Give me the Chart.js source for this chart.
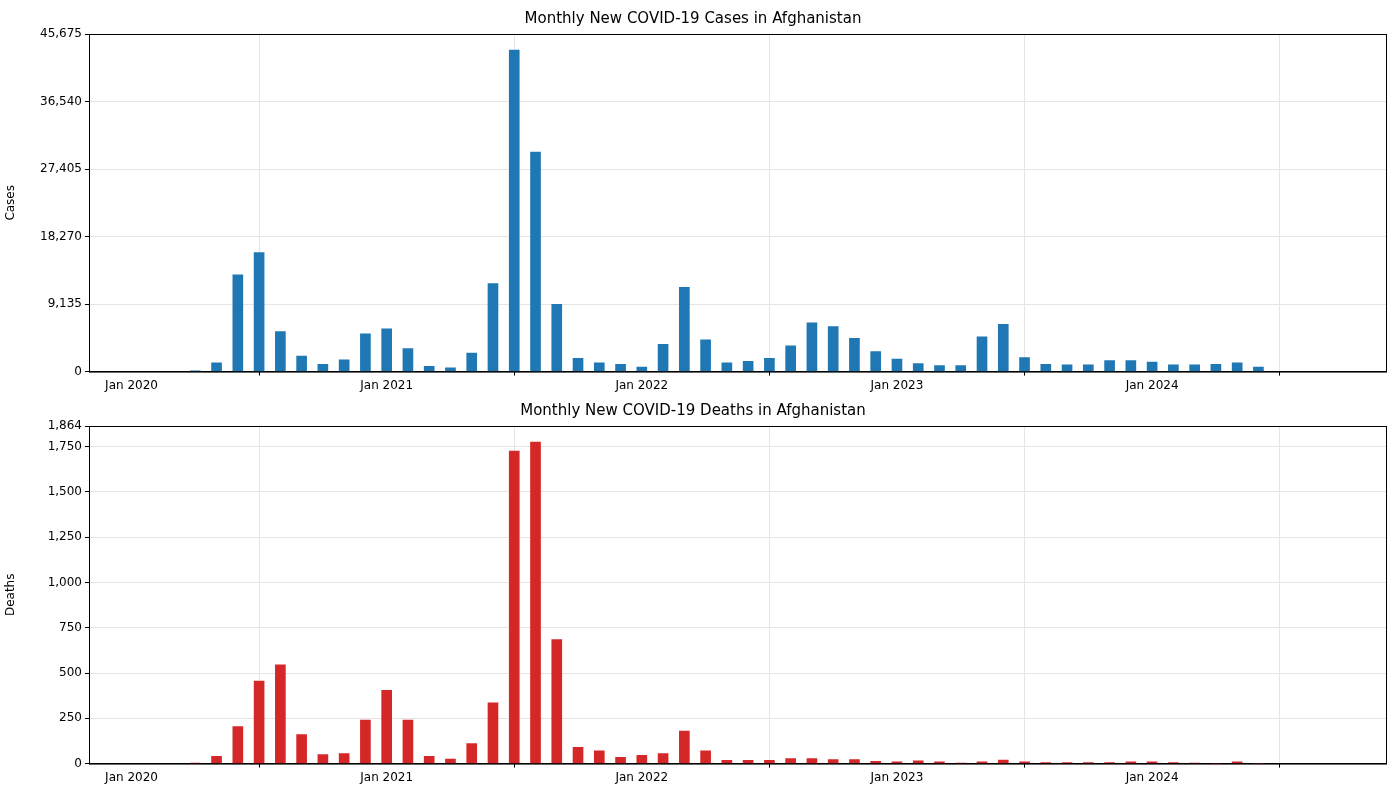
<!DOCTYPE html>
<html><head><meta charset="utf-8">
<script src="https://cdn.jsdelivr.net/npm/chart.js@4"></script>
<style>body{margin:0;background:#fff;width:1400px;height:800px;overflow:hidden}
.c{position:absolute;left:0;width:1400px;height:400px}</style></head>
<body>
<div class="c" style="top:0"><canvas id="c1"></canvas></div>
<div class="c" style="top:392px"><canvas id="c2"></canvas></div>
<script>
const monthIndex=[3,4,5,6,7,8,9,10,11,12,13,14,15,16,17,18,19,20,21,22,23,24,25,26,27,28,29,30,31,32,33,34,35,36,37,38,39,40,41,42,43,44,45,46,47,48,49,50,51,52,53];
const cases=[100,1200,13100,16100,5400,2100,1000,1600,5100,5800,3100,700,500,2500,11900,43500,29700,9100,1800,1200,1000,600,3700,11400,4300,1200,1400,1800,3500,6600,6100,4500,2700,1700,1100,800,800,4700,6400,1900,1000,900,900,1500,1500,1300,900,900,1000,1200,600];
const deaths=[2,40,205,455,545,160,50,55,240,405,240,40,25,110,335,1725,1775,685,90,70,35,45,55,180,70,18,18,18,28,28,22,22,12,10,15,10,2,10,20,10,5,5,5,5,10,10,5,2,0,10,0];
const tickLabels={0:'Jan 2020',12:'Jan 2021',24:'Jan 2022',36:'Jan 2023',48:'Jan 2024'};
Chart.defaults.font.family='DejaVu Sans';Chart.defaults.font.size=12;Chart.defaults.color='#000';
function mk(id,vals,color,title,ylab,ymax,step){
 new Chart(document.getElementById(id),{type:'bar',
  data:{datasets:[{data:monthIndex.map((m,i)=>({x:m,y:vals[i]})),backgroundColor:color,barThickness:10}]},
  options:{animation:false,responsive:true,maintainAspectRatio:false,
   layout:{padding:{right:14,top:6,bottom:4}},
   plugins:{legend:{display:false},tooltip:{enabled:false},
    title:{display:true,text:title,font:{size:15,weight:'normal'},padding:{top:4,bottom:6}}},
   scales:{
    x:{type:'linear',min:-2,max:59,offset:false,grid:{color:'#e5e5e5',drawTicks:true,tickColor:'#000',tickLength:4},border:{color:'#000'},
     afterBuildTicks:a=>{a.ticks=[0,12,24,36,48].map(v=>({value:v}))},
     ticks:{callback:v=>tickLabels[v]||'',maxRotation:0,autoSkip:false}},
    y:{min:0,max:ymax,grid:{color:'#e5e5e5',tickColor:'#000',tickLength:4},border:{color:'#000'},
     afterFit:s=>{s.width=89},
     ticks:{stepSize:step},
     title:{display:true,text:ylab,font:{size:12}}}}},
  plugins:[{id:'frame',afterDraw(c){const a=c.chartArea,x=c.ctx;x.save();x.strokeStyle='#000';x.lineWidth=1;x.strokeRect(a.left+.5,a.top+.5,a.right-a.left,a.bottom-a.top);x.restore();}}]
 });}
mk('c1',cases,'#1f77b4','Monthly New COVID-19 Cases in Afghanistan','Cases',45675,10000);
mk('c2',deaths,'#d62728','Monthly New COVID-19 Deaths in Afghanistan','Deaths',1864,250);
</script></body></html>
